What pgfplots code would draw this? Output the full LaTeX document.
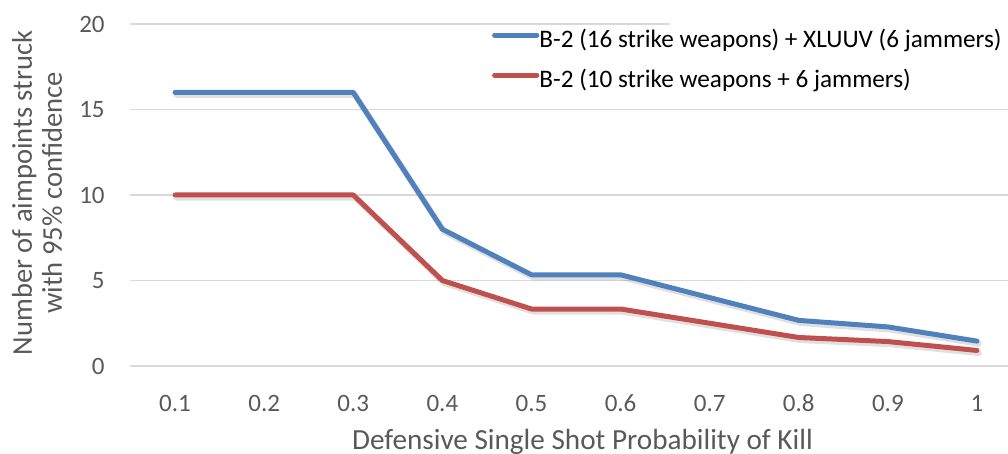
\documentclass[border=0pt]{standalone}
\usepackage{pgfplots}
\pgfplotsset{compat=1.18}
\usepackage{fontspec}
\setmainfont{Carlito}
\definecolor{sblue}{HTML}{4F81BD}
\definecolor{sred}{HTML}{C0504D}
\definecolor{txt}{HTML}{595959}
\definecolor{gridc}{HTML}{D9D9D9}
\begin{document}
\begin{tikzpicture}
\useasboundingbox (-65.25pt,-44pt) rectangle (438.75pt,183pt);
\begin{axis}[
  at={(0pt,0pt)}, anchor=south west,
  scale only axis, width=438.75pt, height=171pt,
  xmin=0.5, xmax=10.348, ymin=0, ymax=20,
  xtick={1,...,10},
  xticklabels={0.1,0.2,0.3,0.4,0.5,0.6,0.7,0.8,0.9,1},
  ytick={0,5,10,15,20},
  axis line style={draw=none},
  major tick length=0pt,
  ymajorgrids, major grid style={gridc, line width=0.65pt},
  /pgf/number format/assume math mode=true,
  tick label style={font=\fontsize{12.5pt}{15pt}\selectfont, text=txt, inner sep=0pt},
  xticklabel style={anchor=center, yshift=-18.7pt},
  yticklabel style={anchor=east, xshift=-12.75pt},
  clip=false,
  legend style={at={(rel axis cs:0.4116,0.986)}, anchor=north west, draw=none, fill=none,
    inner sep=0pt, row sep=9.3pt, column sep=0pt,
    nodes={inner sep=0pt, anchor=west, text=black},
    font=\fontsize{12.6pt}{14pt}\selectfont},
  legend cell align=left,
  legend image code/.code={\draw[#1, line width=2.5pt, line cap=round] (1.25pt,2.4pt) -- (22.4pt,2.4pt);},
]
% white patch hiding the top gridline behind the legend text
\fill[white] (rel axis cs:0.6145,0.98) rectangle (rel axis cs:1,1.02);
% shadows
\addplot[forget plot, black, opacity=0.12, line width=3pt, line join=round, line cap=round, shift={(0.9pt,-1.3pt)}]
  coordinates {(1,16) (2,16) (3,16) (4,8) (5,5.333) (6,5.333) (7,4) (8,2.667) (9,2.286) (10,1.455)};
\addplot[forget plot, black, opacity=0.12, line width=3pt, line join=round, line cap=round, shift={(0.9pt,-1.3pt)}]
  coordinates {(1,10) (2,10) (3,10) (4,5) (5,3.333) (6,3.333) (7,2.5) (8,1.667) (9,1.429) (10,0.909)};
\addplot[sblue, line width=2.5pt, line join=round, line cap=round]
  coordinates {(1,16) (2,16) (3,16) (4,8) (5,5.333) (6,5.333) (7,4) (8,2.667) (9,2.286) (10,1.455)};
\addlegendentry{B-2 (16 strike weapons) + XLUUV (6 jammers)}
\addplot[sred, line width=2.5pt, line join=round, line cap=round]
  coordinates {(1,10) (2,10) (3,10) (4,5) (5,3.333) (6,3.333) (7,2.5) (8,1.667) (9,1.429) (10,0.909)};
\addlegendentry{B-2 (10 strike weapons + 6 jammers)}
\end{axis}
\node[anchor=base, text=txt, font=\fontsize{14.6pt}{17pt}\selectfont] at (226pt,-41.8pt) {Defensive Single Shot Probability of Kill};
\node[anchor=base, rotate=90, text=txt, font=\fontsize{14.3pt}{17pt}\selectfont] at (-49.25pt,86.5pt) {Number of aimpoints struck};
\node[anchor=base, rotate=90, text=txt, font=\fontsize{14.3pt}{17pt}\selectfont] at (-34.25pt,86.5pt) {with 95\% confidence};
\end{tikzpicture}
\end{document}
